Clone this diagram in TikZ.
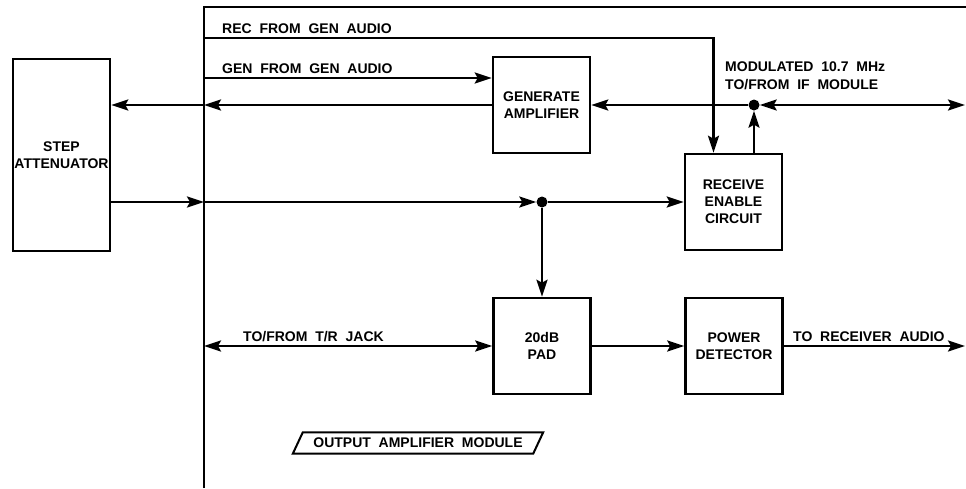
\documentclass[tikz,border=0pt]{standalone}
\usepackage{fontspec}
\setmainfont{Liberation Sans}[WordSpace=2]
\usetikzlibrary{arrows.meta}

\begin{document}
\begin{tikzpicture}[x=1pt, y=-1pt,
    font=\fontsize{14}{17}\selectfont\bfseries,
    blk/.style={rectangle, draw, line width=2.6pt, inner sep=0pt, minimum width=97pt, minimum height=96pt, align=center},
    tip/.tip={Stealth[length=17pt,width=11pt,inset=3pt]},
    ar/.style={line width=2.3pt, -tip},
    ar2/.style={line width=2.3pt, tip-tip},
    dot/.style={circle, fill, inner sep=0pt, minimum size=11pt},
    lbl/.style={inner sep=0pt, anchor=base west}]
    \useasboundingbox (0,0) rectangle (966,488);
    % blocks
    \node [blk, minimum height=192pt] (att) at (61.5,155) {STEP\\ATTENUATOR};
    \node [blk] (gen) at (541.5,105) {GENERATE\\AMPLIFIER};
    \node [blk] (rec) at (733.5,202) {RECEIVE\\ENABLE\\CIRCUIT};
    \node [blk] (pad) at (542,346) {20dB\\PAD};
    \node [blk] (det) at (734,346) {POWER\\DETECTOR};
    \node [dot] (d1) at (754,105) {};
    \node [dot] (d2) at (542,202) {};
    % module border
    \coordinate (mbl) at (204,488);
    \coordinate (mtl) at (204,7);
    \coordinate (mtr) at (966,7);
    \draw [line width=2.3pt] (mbl) -- (mtl) -- (mtr);
    % points on the border and free ends
    \coordinate (recin) at (204,38);
    \coordinate (genin) at (204,78);
    \coordinate (b1) at (204,105);
    \coordinate (b2) at (204,202);
    \coordinate (trj) at (204,346);
    \coordinate (ifout) at (965,105);
    \coordinate (rxout) at (965,346);
    % connectors
    \draw [ar] (recin) -| ([xshift=-20pt]rec.north);
    \draw [ar] (genin) -- (genin -| gen.west);
    \draw [ar] (gen) -- (b1);
    \draw [ar] (b1) -- (b1 -| att.east);
    \draw [ar] (b2 -| att.east) -- (b2);
    \draw [ar] (b2) -- (d2);
    \draw [ar] (d2) -- (rec);
    \draw [ar] (d2) -- (pad);
    \draw [ar] (d1) -- (gen);
    \draw [ar] (rec.north -| d1) -- (d1);
    \draw [ar2] (d1) -- (ifout);
    \draw [ar2] (trj) -- (pad);
    \draw [ar] (pad) -- (det);
    \draw [ar] (det) -- (rxout);
    % labels
    \node [lbl] (lrec) at (222,33) {REC FROM GEN AUDIO};
    \node [lbl] (lgen) at (222,73) {GEN FROM GEN AUDIO};
    \node [inner sep=0pt, anchor=north west, align=left, font=\fontsize{14}{18}\selectfont\bfseries] (lif) at (725,62) {MODULATED 10.7 MHz\\TO/FROM IF MODULE};
    \node [lbl] (ltr) at (243,341) {TO/FROM T/R JACK};
    \node [lbl] (lrx) at (793,341) {TO RECEIVER AUDIO};
    \node [inner sep=0pt, minimum width=240pt, minimum height=21pt] (oam) at (418,443) {OUTPUT AMPLIFIER MODULE};
    \draw [line width=2pt] ([xshift=-5pt]oam.south west) -- ([xshift=5pt]oam.north west)
        -- ([xshift=5pt]oam.north east) -- ([xshift=-5pt]oam.south east) -- cycle;
\end{tikzpicture}
\end{document}
